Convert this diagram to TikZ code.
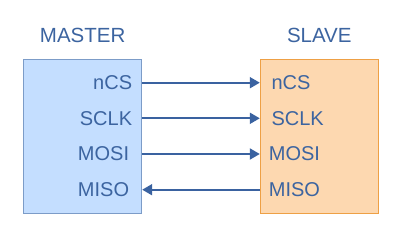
\documentclass[tikz,border=0pt]{standalone}
\usepackage{fontspec}
\setmainfont{Liberation Sans}
\usetikzlibrary{arrows.meta}
\definecolor{txtblue}{HTML}{3C64A0}
\definecolor{lineblue}{HTML}{3A62A0}
\definecolor{mfill}{HTML}{C4DEFF}
\definecolor{mdraw}{HTML}{7C9CC8}
\definecolor{sfill}{HTML}{FDD8B0}
\definecolor{sdraw}{HTML}{EEA045}
\begin{document}
\begin{tikzpicture}[x=1pt,y=-1pt,
  lbl/.style={font=\fontsize{20}{22}\selectfont,text=txtblue,inner sep=0pt},
  title/.style={font=\fontsize{20.5}{23}\selectfont,text=txtblue,inner sep=0pt},
  sig/.style={draw=lineblue,line width=1.9pt,-{Triangle[length=10pt,width=11pt]}},
  mbox/.style={draw=mdraw,fill=mfill,line width=1pt},
  sbox/.style={draw=sdraw,fill=sfill,line width=1pt}]
\useasboundingbox (0,0) rectangle (414,249);
\fill[white] (0,0) rectangle (414,249);
\node[mbox,minimum width=118.4pt,minimum height=154pt,inner sep=0pt] (m) at (82.5,136.3) {};
\node[sbox,minimum width=118.4pt,minimum height=154pt,inner sep=0pt] (s) at (319.5,136.3) {};
\node[title] (mt) at (82.7,35.7) {MASTER};
\node[title] (st) at (319.3,35.7) {SLAVE};
% master labels
\node[lbl,anchor=east] (mncs) at (132.3,82.7) {nCS};
\node[lbl,anchor=east] (msclk) at (132.3,118.3) {SCLK};
\node[lbl,anchor=east] (mmosi) at (129.3,154) {MOSI};
\node[lbl,anchor=east] (mmiso) at (129.3,189.7) {MISO};
% slave labels
\node[lbl,anchor=west] (sncs) at (271.3,82.7) {nCS};
\node[lbl,anchor=west] (ssclk) at (271.3,118.3) {SCLK};
\node[lbl,anchor=west] (smosi) at (268.7,154) {MOSI};
\node[lbl,anchor=west] (smiso) at (268.7,189.7) {MISO};
% connectors
\coordinate (a1) at (m.east |- mncs); \coordinate (b1) at (s.west |- sncs);
\coordinate (a2) at (m.east |- msclk); \coordinate (b2) at (s.west |- ssclk);
\coordinate (a3) at (m.east |- mmosi); \coordinate (b3) at (s.west |- smosi);
\coordinate (a4) at (m.east |- mmiso); \coordinate (b4) at (s.west |- smiso);
\draw[sig] (a1) -- (b1);
\draw[sig] (a2) -- (b2);
\draw[sig] (a3) -- (b3);
\draw[sig] (b4) -- (a4);
\end{tikzpicture}
\end{document}
